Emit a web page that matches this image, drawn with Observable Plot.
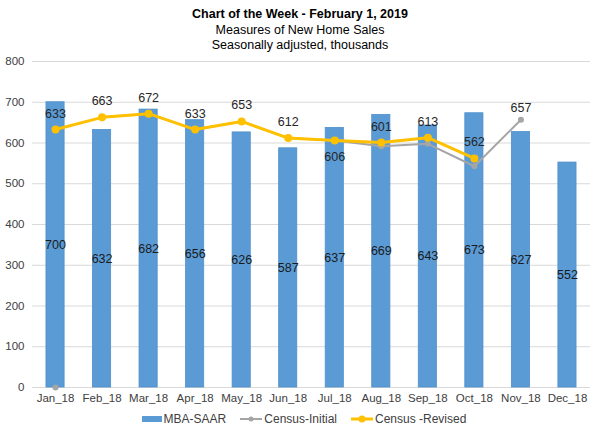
<!DOCTYPE html>
<html>
<head>
<meta charset="utf-8">
<script src="https://cdn.jsdelivr.net/npm/d3@7"></script>
<script src="https://cdn.jsdelivr.net/npm/@observablehq/plot@0.6"></script>
<style>
  html, body { margin: 0; padding: 0; background: #fff; }
  body { width: 600px; height: 435px; font-family: "Liberation Sans", Arial, sans-serif; color: #000; }
  #title { text-align: center; padding-top: 7px; height: 47px; line-height: 15.5px; font-size: 12.5px; }
  #title .t { font-weight: bold; }
  #legend { display: flex; justify-content: center; align-items: center; gap: 14px; font-size: 12px; color: #404040; margin-top: 3px; padding-left: 8px; }
  #legend span.item { display: flex; align-items: center; gap: 2px; }
</style>
</head>
<body>
<div id="title">
  <div class="t">Chart of the Week - February 1, 2019</div>
  <div>Measures of New Home Sales</div>
  <div>Seasonally adjusted, thousands</div>
</div>
<div id="chart"></div>
<div id="legend">
  <span class="item"><svg width="20" height="8"><rect x="0" y="1" width="20" height="6" fill="#5b9bd5"/></svg>MBA-SAAR</span>
  <span class="item"><svg width="22" height="10"><line x1="0" y1="5" x2="22" y2="5" stroke="#a5a5a5" stroke-width="2"/><circle cx="11" cy="5" r="2.5" fill="#a5a5a5"/></svg>Census-Initial</span>
  <span class="item"><svg width="22" height="10"><line x1="0" y1="5" x2="22" y2="5" stroke="#ffc000" stroke-width="3"/><circle cx="11" cy="5" r="3.5" fill="#ffc000"/></svg>Census -Revised</span>
</div>
<script>
const months = ["Jan_18","Feb_18","Mar_18","Apr_18","May_18","Jun_18","Jul_18","Aug_18","Sep_18","Oct_18","Nov_18","Dec_18"];
const mbaSaar = [700, 632, 682, 656, 626, 587, 637, 669, 643, 673, 627, 552];
const censusInitial = [0, 663, 672, 633, 653, 612, 606, 592, 598, 543, 657, null];
const censusRevised = [633, 663, 672, 633, 653, 612, 606, 601, 613, 562, null, null];
const yTicks = [0, 100, 200, 300, 400, 500, 600, 700, 800];

const rows = months.map((m, i) => ({month: m, mba: mbaSaar[i], initial: censusInitial[i], revised: censusRevised[i]}));
const initRows = rows.filter(d => d.initial != null);
const initLineRows = initRows.filter(d => d.month !== "Jan_18");
const revRows = rows.filter(d => d.revised != null);
const initLabelRows = rows.filter(d => d.month === "Nov_18");
const revAbove = revRows.filter(d => d.month !== "Jul_18");
const revBelow = revRows.filter(d => d.month === "Jul_18");

const chart = Plot.plot({
  width: 600,
  height: 355,
  marginTop: 7,
  marginBottom: 22,
  marginLeft: 32,
  marginRight: 10,
  style: {fontFamily: "'Liberation Sans', Arial, sans-serif", fontSize: "11.5px", color: "#404040", background: "#fff"},
  x: {domain: months, paddingInner: 0.61, paddingOuter: 0.3, round: false, label: null, tickSize: 0, tickPadding: 6},
  y: {domain: [0, 800], ticks: yTicks, label: null, tickSize: 0, tickPadding: 8},
  marks: [
    Plot.gridY(yTicks, {stroke: "#d9d9d9", strokeOpacity: 1}),
    Plot.barY(rows, {x: "month", y: "mba", fill: "#5b9bd5", stroke: "#4f8fcb", strokeWidth: 0.8}),
    Plot.text(rows, {x: "month", y: d => d.mba / 2, text: "mba", fontSize: 12.5, fill: "#1a1a1a"}),
    Plot.line(initLineRows, {x: "month", y: "initial", stroke: "#a5a5a5", strokeWidth: 2}),
    Plot.dot(initRows, {x: "month", y: "initial", r: 3, fill: "#a5a5a5"}),
    Plot.line(revRows, {x: "month", y: "revised", stroke: "#ffc000", strokeWidth: 3}),
    Plot.dot(revRows, {x: "month", y: "revised", r: 4, fill: "#ffc000"}),
    Plot.text(revAbove, {x: "month", y: "revised", text: "revised", dy: -16, fontSize: 12.5, fill: "#262626"}),
    Plot.text(revBelow, {x: "month", y: "revised", text: "revised", dy: 16, fontSize: 12.5, fill: "#262626"}),
    Plot.text(initLabelRows, {x: "month", y: "initial", text: "initial", dy: -12, fontSize: 12.5, fill: "#262626"})
  ]
});
document.getElementById("chart").appendChild(chart);
</script>
</body>
</html>
